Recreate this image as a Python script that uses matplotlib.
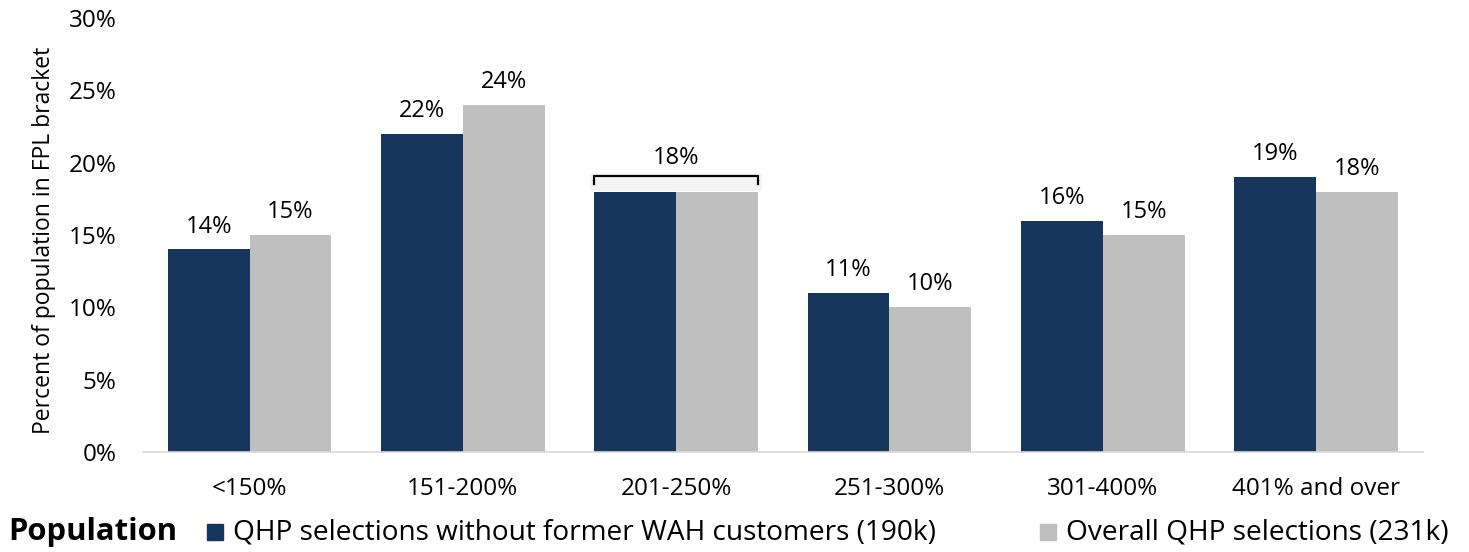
import numpy as np
import matplotlib.pyplot as plt
from matplotlib.patches import Rectangle

plt.rcParams['font.family'] = ['Open Sans', 'DejaVu Sans']

# FPL brackets and shares (%)
brackets = ['<150%', '151-200%', '201-250%', '251-300%', '301-400%', '401% and over']
without_wah = [14, 22, 18, 11, 16, 19]
overall = [15, 24, 18, 10, 15, 18]

series_names = ['QHP selections without former WAH customers (190k)',
                'Overall QHP selections (231k)']
navy = '#17365D'
grey = '#BFBFBF'

fig = plt.figure(figsize=(14.69, 5.52), dpi=100)
ax = fig.add_axes([0.0973, 0.1812, 0.8712, 0.7862])

x = np.arange(len(brackets))
w = 0.384
b1 = ax.bar(x - w / 2, without_wah, w, color=navy)
b2 = ax.bar(x + w / 2, overall, w, color=grey)

# value labels
for bars, vals in ((b1, without_wah), (b2, overall)):
    for i, (bar, v) in enumerate(zip(bars, vals)):
        if i == 2 and bars is b1:
            continue
        xc = bar.get_x() + bar.get_width() / 2
        if i == 2:
            xc = x[i]
            off = 1.5
        else:
            off = 0.75
        ax.text(xc, v + off, f'{v}%', ha='center', va='bottom', fontsize=17)

# bracket over the 201-250% group
bx0, bx1 = x[2] - w, x[2] + w
by = without_wah[2] + 1.05
ax.add_patch(Rectangle((bx0 - 0.02, without_wah[2] + 0.05), bx1 - bx0 + 0.04, 1.25,
                       color='#F4F4F4', zorder=1, lw=0))
ax.plot([bx0, bx0, bx1, bx1], [by - 0.55, by, by, by - 0.55], color='black', lw=1.6,
        zorder=3)

ax.set_xlim(-0.5, len(brackets) - 0.5)
ax.set_ylim(0, 30)
ax.set_yticks(np.arange(0, 31, 5))
ax.set_yticklabels([f'{t}%' for t in range(0, 31, 5)])
ax.set_xticks(x)
ax.set_xticklabels(brackets)
ax.tick_params(axis='both', length=0, labelsize=17.5)
ax.tick_params(axis='y', pad=19)
ax.tick_params(axis='x', pad=18)

for s in ('top', 'right', 'left'):
    ax.spines[s].set_visible(False)
ax.spines['bottom'].set_color('#D9D9D9')
ax.spines['bottom'].set_linewidth(1.2)

fig.text(44 / 1469, 1 - 240 / 552, 'Percent of population in FPL bracket', rotation=90,
         ha='center', va='center', fontsize=16.5)

# legend row
ly = 1 - 532 / 552
fig.text(8 / 1469, ly, 'Population', ha='left', va='center', fontsize=22.3,
         fontweight='bold')
for px, col, name in ((207, navy, series_names[0]), (1040, grey, series_names[1])):
    fig.patches.append(Rectangle((px / 1469, (552 - 540) / 552), 16 / 1469, 16 / 552,
                                 transform=fig.transFigure, color=col))
    fig.text((px + 26) / 1469, ly, name, ha='left', va='center', fontsize=20.2)

fig.savefig('out.png', dpi=100)
